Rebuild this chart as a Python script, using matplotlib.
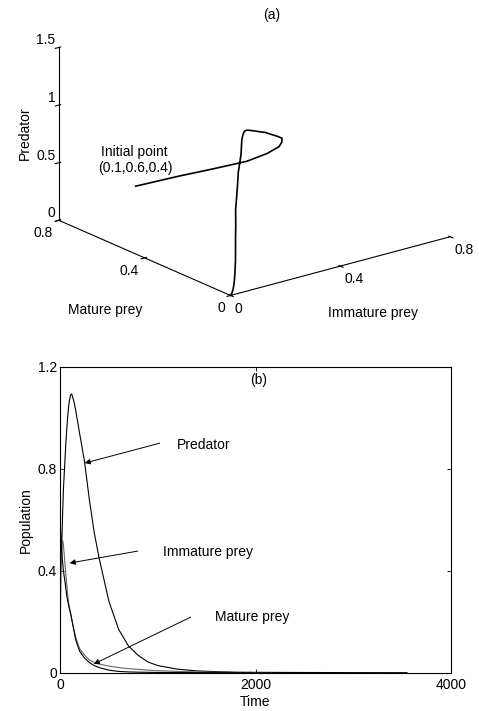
import matplotlib
matplotlib.use("Agg")
import matplotlib.pyplot as plt
import numpy as np

plt.rcParams['font.family'] = ['Liberation Sans', 'DejaVu Sans']
plt.rcParams['font.size'] = 10

# time samples and populations
time = [0, 5, 10, 15, 20, 25, 30, 35, 42, 50, 60, 70, 80, 90, 100, 110, 120,
        130, 145, 160, 200, 250, 300, 350, 400, 500, 600, 700, 800, 900, 1000,
        1200, 1400, 1600, 1800, 1950]
immature = [0.10, 0.25, 0.36, 0.45, 0.50, 0.52, 0.515, 0.50, 0.47, 0.43, 0.385,
            0.34, 0.30, 0.27, 0.25, 0.23, 0.21, 0.19, 0.165, 0.14, 0.095, 0.07,
            0.05, 0.041, 0.034, 0.026, 0.020, 0.016, 0.013, 0.010, 0.008, 0.005,
            0.003, 0.0015, 0.0008, 0.0003]
mature = [0.57, 0.56, 0.54, 0.50, 0.47, 0.44, 0.42, 0.40, 0.38, 0.36, 0.33,
          0.30, 0.28, 0.26, 0.245, 0.23, 0.21, 0.19, 0.16, 0.13, 0.085, 0.058,
          0.040, 0.028, 0.020, 0.010, 0.005, 0.003, 0.002, 0.0015, 0.001,
          0.0005, 0.0002, 0.0001, 0.0, 0.0]
predator = [0.42, 0.42, 0.43, 0.47, 0.53, 0.60, 0.66, 0.72, 0.77, 0.83, 0.90,
            0.96, 1.01, 1.05, 1.075, 1.09, 1.093, 1.08, 1.06, 1.03, 0.94, 0.83,
            0.68, 0.55, 0.45, 0.28, 0.17, 0.105, 0.068, 0.042, 0.028, 0.014,
            0.007, 0.004, 0.002, 0.0015]
pred_tail_t = [1950, 2500, 3000, 3550]
pred_tail = [0.0015, 0.0008, 0.0003, 0.0001]

xticks_b = [0, 2000, 4000]
yticks_b = [0, 0.4, 0.8, 1.2]
yticklabels_b = ['0', '0.4', '0.8', '1.2']

ticks_prey = [0, 0.4, 0.8]
ticklabels_prey = ['0', '0.4', '0.8']
ticks_pred = [0, 0.5, 1, 1.5]
ticklabels_pred = ['0', '0.5', '1', '1.5']

fig = plt.figure(figsize=(4.79, 7.11), dpi=100)

# ---- panel (a): phase portrait ----
ax3 = fig.add_axes([0.0675, 0.5742, 0.91, 0.44], projection='3d', proj_type='ortho')
ax3.view_init(elev=20, azim=-128)
ax3.set_box_aspect((1, 1, 0.66), zoom=1.35)
ax3.plot(immature, mature, predator, color='k', lw=1.2)
ax3.set_xlim(0, 0.8, view_margin=0)
ax3.set_ylim(0, 0.8, view_margin=0)
ax3.set_zlim(0, 1.5, view_margin=0)
ax3.set_xticks(ticks_prey)
ax3.set_xticklabels(ticklabels_prey, ha='left')
ax3.set_yticks(ticks_prey)
ax3.set_yticklabels(ticklabels_prey, ha='right')
ax3.set_zticks(ticks_pred)
ax3.set_zticklabels(ticklabels_pred, ha='right', va='bottom')
ax3.tick_params(axis='x', pad=-5)
ax3.tick_params(axis='y', pad=-5)
ax3.tick_params(axis='z', pad=-7)
ax3.grid(False)
for axis in (ax3.xaxis, ax3.yaxis, ax3.zaxis):
    axis.pane.fill = False
    axis.pane.set_edgecolor('none')
    axis.line.set_color('k')
    axis.line.set_linewidth(0.8)
fig.text(373 / 479, 1 - 313 / 711, 'Immature prey', ha='center', va='center')
fig.text(105 / 479, 1 - 310 / 711, 'Mature prey', ha='center', va='center')
fig.text(25 / 479, 1 - 133 / 711, 'Predator', ha='center', va='center', rotation=90)
fig.text(272 / 479, 1 - 15 / 711, '(a)', ha='center', va='center')
fig.text(134 / 479, 1 - 152 / 711, 'Initial point', ha='center', va='center')
fig.text(135 / 479, 1 - 168 / 711, '(0.1,0.6,0.4)', ha='center', va='center')

# ---- panel (b): time series ----
ax = fig.add_axes([60 / 479, 38.3 / 711, 391 / 479, 306 / 711])
ax.plot(time, predator, color='k', lw=0.8)
ax.plot(pred_tail_t, pred_tail, color='k', lw=0.8)
ax.plot(time, immature, color='0.4', lw=0.8)
ax.plot(time, mature, color='k', lw=0.8)
ax.set_xlim(0, 4000)
ax.set_ylim(0, 1.2)
ax.set_xticks(xticks_b)
ax.set_yticks(yticks_b)
ax.set_yticklabels(yticklabels_b)
ax.tick_params(direction='in', top=True, right=True, length=3, width=0.6,
               labelsize=10, pad=4)
ax.tick_params(axis='y', pad=2)
for s in ax.spines.values():
    s.set_linewidth(0.8)
ax.set_xlabel('Time', labelpad=2)
ax.set_ylabel('Population', labelpad=4)
ax.text(0.509, 0.957, '(b)', transform=ax.transAxes, ha='center', va='center')

arrow = dict(arrowstyle='-|>', color='k', lw=0.7, mutation_scale=8, shrinkA=0, shrinkB=0)
ax.annotate('', xy=(253, 0.822), xytext=(1020, 0.90), arrowprops=arrow)
ax.text(1195, 0.893, 'Predator', ha='left', va='center')
ax.annotate('', xy=(99, 0.43), xytext=(796, 0.477), arrowprops=arrow)
ax.text(1051, 0.473, 'Immature prey', ha='left', va='center')
ax.annotate('', xy=(345, 0.034), xytext=(1337, 0.218), arrowprops=arrow)
ax.text(1583, 0.218, 'Mature prey', ha='left', va='center')

fig.savefig('out.png', dpi=100)
